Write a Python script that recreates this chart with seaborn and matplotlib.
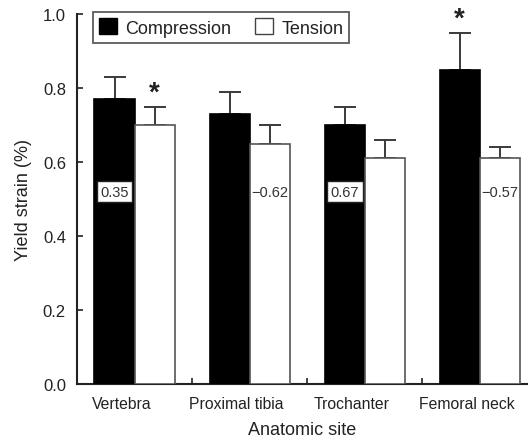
import matplotlib
matplotlib.use("Agg")
import matplotlib.pyplot as plt
import matplotlib.transforms as mtransforms
import numpy as np
import pandas as pd
import seaborn as sns
from matplotlib.patches import Patch

sites = ["Vertebra", "Proximal tibia", "Trochanter", "Femoral neck"]
loads = ["Compression", "Tension"]
compression_mean = [0.77, 0.73, 0.70, 0.85]
compression_sd = [0.06, 0.06, 0.05, 0.10]
tension_mean = [0.70, 0.65, 0.61, 0.61]
tension_sd = [0.05, 0.05, 0.05, 0.03]
# correlation coefficients printed inside the bars (site, load, value)
corr_labels = [("Vertebra", "Compression", "0.35"),
               ("Proximal tibia", "Tension", "\u22120.62"),
               ("Trochanter", "Compression", "0.67"),
               ("Femoral neck", "Tension", "\u22120.57")]
# significant differences
stars = [("Vertebra", "Tension"), ("Femoral neck", "Compression")]

df = pd.DataFrame({
    "site": sites * 2,
    "load": ["Compression"] * 4 + ["Tension"] * 4,
    "strain": compression_mean + tension_mean,
    "sd": compression_sd + tension_sd,
})

sns.set_theme(style="ticks")
plt.rcParams["font.family"] = ["Liberation Sans", "DejaVu Sans"]
ink = "#222222"
plt.rcParams["text.color"] = ink
plt.rcParams["axes.labelcolor"] = ink
plt.rcParams["xtick.color"] = ink
plt.rcParams["ytick.color"] = ink

fig = plt.figure(figsize=(5.28, 4.39), dpi=100)
ax = fig.add_axes([77 / 528, 1 - 385 / 439, 1 - 77 / 528, (385 - 15) / 439])

sns.barplot(data=df, x="site", y="strain", hue="load", order=sites,
            hue_order=loads, palette={"Compression": "black", "Tension": "white"},
            width=0.696, gap=0, errorbar=None, legend=False, ax=ax, zorder=3)

edge = {"Compression": "black", "Tension": "#555555"}
centers = {}
for container, load in zip(ax.containers, loads):
    for bar, site in zip(container, sites):
        bar.set_edgecolor(edge[load])
        bar.set_linewidth(1.2)
        centers[(site, load)] = bar.get_x() + bar.get_width() / 2

# one-sided (upper) standard deviation bars
for _, row in df.iterrows():
    cx = centers[(row["site"], row["load"])]
    ax.errorbar([cx], [row["strain"]], yerr=[[0], [row["sd"]]], fmt="none",
                ecolor="#3a3a3a", elinewidth=1.4, capsize=8, capthick=1.4, zorder=2)

for site, load, txt in corr_labels:
    cx = centers[(site, load)]
    if load == "Compression":
        ax.text(cx, 0.52, txt, ha="center", va="center", fontsize=10.5, color="#333333",
                bbox=dict(boxstyle="square,pad=0.25", fc="white", ec="#222222", lw=1.0),
                zorder=5)
    else:
        ax.text(cx, 0.52, txt, ha="center", va="center", fontsize=10.5,
                color="#333333", zorder=5)

for site, load in stars:
    row = df[(df["site"] == site) & (df["load"] == load)].iloc[0]
    top = row["strain"] + row["sd"]
    ax.annotate("*", (centers[(site, load)], top), xytext=(0, 0.5),
                textcoords="offset points", ha="center", va="bottom",
                fontsize=20, fontweight="bold", color="#222222", zorder=5)

ax.set_ylim(0, 1.0)
ax.set_xlim(-0.5, 3.42)
ax.set_yticks(np.arange(0, 1.01, 0.2))
ax.set_yticklabels([f"{v:.1f}" for v in np.arange(0, 1.01, 0.2)], fontsize=12)
ax.set_xticks(range(len(sites)))
ax.set_xticklabels(sites, fontsize=11.3)
ax.set_xticks([0.5, 1.5, 2.5], minor=True)
ax.tick_params(axis="x", which="major", length=0, pad=9)
ax.tick_params(axis="x", which="minor", direction="in", length=4, width=1.2, color="#222222")
ax.tick_params(axis="y", direction="in", length=4, width=1.2, pad=8)

# site names sit slightly left of the group centres
shift = mtransforms.ScaledTranslation(-0.13, 0, fig.dpi_scale_trans)
for lbl in ax.get_xticklabels():
    lbl.set_transform(lbl.get_transform() + shift)

ax.set_xlabel("Anatomic site", fontsize=13, labelpad=7)
ax.set_ylabel("Yield strain (%)", fontsize=13, labelpad=8)

for s in ["top", "right"]:
    ax.spines[s].set_visible(False)
for s in ["left", "bottom"]:
    ax.spines[s].set_linewidth(1.5)
    ax.spines[s].set_color("#222222")

handles = [Patch(facecolor="black", edgecolor="black", label="Compression"),
           Patch(facecolor="white", edgecolor="#444444", label="Tension")]
leg = fig.legend(handles=handles, loc="upper left",
                 bbox_to_anchor=(93 / 528, 1 - 13 / 439), bbox_transform=fig.transFigure,
                 ncol=2, fontsize=13, frameon=True, fancybox=False, borderaxespad=0,
                 handlelength=1.0, handleheight=1.0, handletextpad=0.45,
                 columnspacing=1.3, borderpad=0.35)
leg.get_frame().set_edgecolor("#333333")
leg.get_frame().set_linewidth(1.3)

fig.savefig("out.png", dpi=100)
